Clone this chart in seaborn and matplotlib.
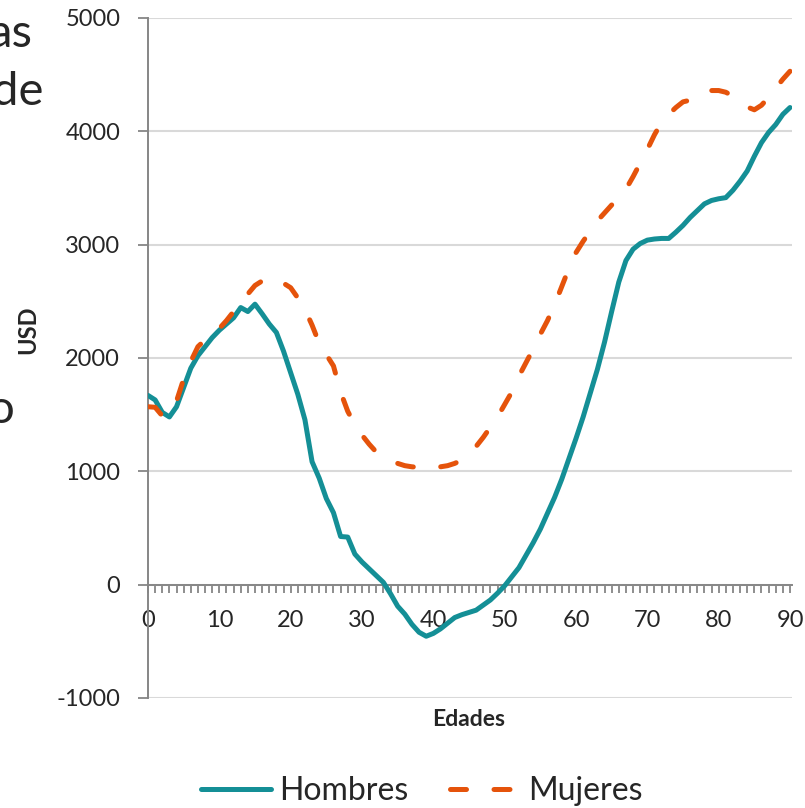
import matplotlib
matplotlib.use('Agg')
import pandas as pd
import seaborn as sns
import matplotlib.pyplot as plt

# datos
edades = list(range(0, 91))
hombres = [1670, 1630, 1520, 1480, 1570, 1740, 1910, 2020, 2100, 2180,
           2245, 2300, 2355, 2445, 2410, 2475, 2390, 2300, 2225, 2060,
           1870, 1680, 1455, 1085, 940, 760, 635, 425, 420, 270,
           200, 140, 80, 20, -80, -190, -260, -350, -420, -455,
           -430, -390, -340, -290, -265, -245, -225, -180, -135, -75,
           -10, 70, 150, 260, 370, 490, 630, 770, 930, 1110,
           1290, 1480, 1690, 1900, 2140, 2410, 2670, 2860, 2960, 3010,
           3040, 3050, 3055, 3055, 3110, 3170, 3240, 3300, 3360, 3390,
           3405, 3415, 3480, 3560, 3650, 3780, 3900, 3990, 4060, 4150,
           4210]
mujeres = [1570, 1565, 1490, 1500, 1620, 1815, 1970, 2100, 2160, 2210,
           2260, 2330, 2410, 2490, 2565, 2640, 2680, 2660, 2630, 2660,
           2620, 2530, 2430, 2290, 2130, 2030, 1930, 1700, 1530, 1410,
           1320, 1240, 1170, 1130, 1100, 1070, 1050, 1040, 1035, 1030,
           1035, 1040, 1050, 1070, 1100, 1160, 1220, 1300, 1390, 1480,
           1590, 1700, 1840, 1960, 2080, 2210, 2330, 2470, 2630, 2790,
           2930, 3030, 3120, 3210, 3280, 3350, 3420, 3490, 3600, 3720,
           3840, 3970, 4080, 4150, 4210, 4260, 4275, 4290, 4330, 4360,
           4360, 4345, 4310, 4270, 4215, 4190, 4230, 4300, 4380, 4460,
           4530]
series = ['Hombres', 'Mujeres']
colores = ['#148F96', '#E5530B']
y_ticks = [-1000, 0, 1000, 2000, 3000, 4000, 5000]
x_ticks = list(range(0, 91, 10))

sns.set_style('white')
plt.rcParams['font.family'] = ['Lato', 'DejaVu Sans']
plt.rcParams['axes.unicode_minus'] = False

df = pd.DataFrame({
    'Edades': edades + edades,
    'USD': hombres + mujeres,
    'Sexo': [series[0]] * len(edades) + [series[1]] * len(edades),
})

fig = plt.figure(figsize=(8.05, 8.08), dpi=100)
ax = fig.add_axes([148 / 805, 1 - 698 / 808, 644 / 805, 680 / 808])

sns.lineplot(data=df, x='Edades', y='USD', hue='Sexo', style='Sexo',
             palette=dict(zip(series, colores)),
             dashes={'Hombres': '', 'Mujeres': (3.2, 5.5)},
             linewidth=3.6, solid_capstyle='round', dash_capstyle='round',
             legend=False, ax=ax, zorder=3)

gris = '#868686'
ax.set_xlim(0, 90.28)
ax.set_ylim(-1000, 5000)
ax.set_yticks(y_ticks)
ax.set_xticks(x_ticks)
ax.set_xticks(edades, minor=True)
ax.yaxis.grid(True, color='#D9D9D9', linewidth=1.5)
ax.xaxis.grid(False)
ax.set_axisbelow(True)

for s in ['top', 'right']:
    ax.spines[s].set_visible(False)
ax.spines['left'].set_color(gris)
ax.spines['left'].set_linewidth(1.4)
ax.spines['bottom'].set_position(('data', 0))
ax.spines['bottom'].set_color(gris)
ax.spines['bottom'].set_linewidth(1.4)

ax.tick_params(axis='y', left=True, direction='out', length=7, width=1.3,
               color=gris, labelsize=17, pad=13)
ax.tick_params(axis='x', which='both', bottom=True, direction='out',
               length=6, width=1.3, color=gris, labelsize=17, pad=12)
ax.set_xlabel('')
ax.set_ylabel('')

fig.text(469 / 805, 1 - 720 / 808, 'Edades', ha='center', va='center',
         fontsize=16.5, fontweight='bold')
fig.text(28 / 805, 1 - 330 / 808, 'USD', ha='center', va='center',
         rotation=90, fontsize=17, fontweight='bold')

# restos del texto de la diapositiva a la izquierda
fig.text(33 / 805, 1 - 47 / 808, 'as', ha='right', va='baseline', fontsize=34)
fig.text(43 / 805, 1 - 105 / 808, 'de', ha='right', va='baseline', fontsize=34)
fig.text(15 / 805, 1 - 423 / 808, 'o', ha='right', va='baseline', fontsize=34)

fig.legend(ax.lines[:2], series, loc='center',
           bbox_to_anchor=(422 / 805, 1 - 791 / 808), ncol=2, frameon=False,
           fontsize=23, handlelength=2.2, handletextpad=0.25,
           columnspacing=1.3)

fig.savefig('out.png', dpi=100)
